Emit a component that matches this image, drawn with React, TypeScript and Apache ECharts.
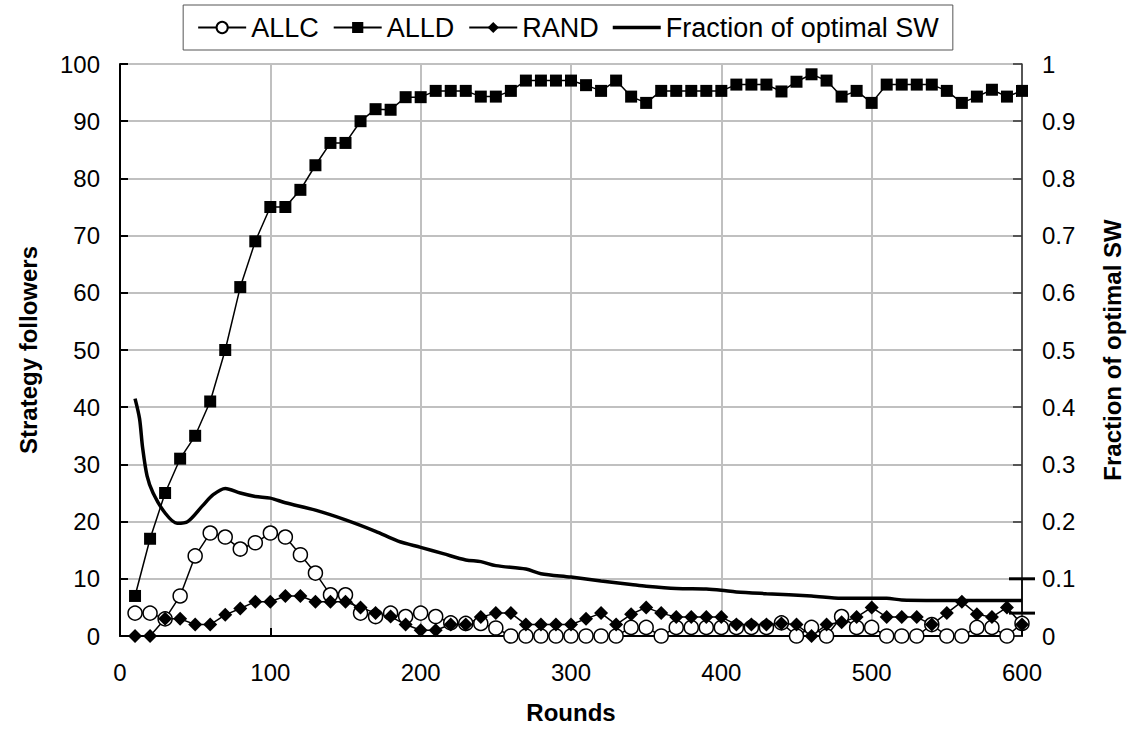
import React, { useEffect, useRef } from "react";
import * as echarts from "echarts";

const rounds = [10, 20, 30, 40, 50, 60, 70, 80, 90, 100, 110, 120, 130, 140, 150, 160, 170, 180, 190, 200, 210, 220, 230, 240, 250, 260, 270, 280, 290, 300, 310, 320, 330, 340, 350, 360, 370, 380, 390, 400, 410, 420, 430, 440, 450, 460, 470, 480, 490, 500, 510, 520, 530, 540, 550, 560, 570, 580, 590, 600];

const allc = [4, 4, 3, 7, 14, 18, 17.3, 15.2, 16.3, 18, 17.3, 14.2, 11, 7.2, 7.2, 4, 3.4, 4, 3.4, 4, 3.4, 2.3, 2.2, 2.2, 1.4, 0, 0, 0, 0, 0, 0, 0, 0, 1.5, 1.5, 0, 1.5, 1.5, 1.5, 1.5, 1.5, 1.5, 1.5, 2.3, 0, 1.5, 0, 3.4, 1.5, 1.5, 0, 0, 0, 2, 0, 0, 1.5, 1.5, 0, 2.2];

const alld = [7, 17, 25, 31, 35, 41, 50, 61, 69, 75, 75, 78, 82.3, 86.2, 86.2, 90, 92.1, 92, 94.2, 94.2, 95.3, 95.3, 95.3, 94.3, 94.3, 95.3, 97.1, 97.1, 97.1, 97.1, 96.3, 95.3, 97.1, 94.3, 93.2, 95.3, 95.3, 95.3, 95.3, 95.3, 96.4, 96.4, 96.4, 95.2, 96.9, 98.2, 97.1, 94.3, 95.3, 93.2, 96.4, 96.4, 96.4, 96.4, 95.3, 93.2, 94.3, 95.5, 94.3, 95.3];

const rand = [0, 0, 3, 3, 2, 2, 3.7, 4.8, 6, 6, 7, 7, 6, 6, 6, 5, 4, 3.4, 2, 1, 1, 2, 2, 3.3, 4, 4, 2, 2, 2, 2, 3, 4, 2, 3.8, 5, 4, 3.3, 3.3, 3.3, 3.3, 2, 2, 2, 2.2, 2, 0, 2, 2.4, 3.3, 5, 3.3, 3.3, 3.3, 2, 4, 6, 3.8, 3.3, 5, 2];

const fractionRounds = [10, 13, 15, 18, 22, 30, 38, 45, 55, 62, 70, 80, 90, 100, 110, 130, 150, 170, 185, 200, 215, 230, 240, 250, 270, 280, 300, 320, 340, 350, 370, 390, 400, 410, 430, 460, 480, 510, 520, 560, 600];
const fractionSW = [0.415, 0.38, 0.33, 0.28, 0.25, 0.215, 0.197, 0.2, 0.228, 0.247, 0.258, 0.25, 0.244, 0.241, 0.233, 0.22, 0.203, 0.183, 0.166, 0.155, 0.144, 0.133, 0.13, 0.123, 0.117, 0.109, 0.103, 0.096, 0.09, 0.087, 0.083, 0.082, 0.08, 0.077, 0.074, 0.07, 0.066, 0.066, 0.063, 0.062, 0.062];

const errorBarRound = [600];
const errorBarLow = [0.04];
const errorBarHigh = [0.1];

const FONT = "'Liberation Sans', Arial, sans-serif";

export default function App() {
  const ref = useRef<HTMLDivElement>(null);
  useEffect(() => {
    if (!ref.current) return;
    const chart = echarts.init(ref.current, null, { renderer: "svg" });
    const pair = (xs: number[], ys: number[]) => xs.map((x, i) => [x, ys[i]]);
    chart.setOption({
      animation: false,
      backgroundColor: "#fff",
      textStyle: { fontFamily: FONT, color: "#000" },
      legend: {
        top: 5,
        left: "center",
        data: [
          "ALLC",
          "ALLD",
          "RAND",
          { name: "Fraction of optimal SW", icon: "path://M0,0 L48,0 L48,3.5 L0,3.5 Z" },
        ],
        borderColor: "#555",
        borderWidth: 1,
        padding: [9, 14],
        itemWidth: 48,
        itemHeight: 14,
        itemGap: 14,
        textStyle: { fontFamily: FONT, fontSize: 27, color: "#000" },
      },
      grid: { left: 120, right: 114, top: 64, bottom: 95, containLabel: false },
      xAxis: {
        type: "value",
        min: 0,
        max: 600,
        interval: 100,
        name: "Rounds",
        nameLocation: "middle",
        nameGap: 64,
        nameTextStyle: { fontFamily: FONT, fontSize: 24, fontWeight: "bold", color: "#000" },
        axisLine: { show: true, onZero: false, lineStyle: { color: "#000", width: 2 } },
        axisTick: { show: true, inside: true, length: 8, lineStyle: { color: "#000", width: 2 } },
        axisLabel: { margin: 24, fontSize: 24, fontFamily: FONT, color: "#000" },
        splitLine: { show: true, lineStyle: { color: "#c0c0c0", width: 2 } },
      },
      yAxis: [
        {
          type: "value",
          min: 0,
          max: 100,
          interval: 10,
          name: "Strategy followers",
          nameLocation: "middle",
          nameRotate: 90,
          nameGap: 80,
          nameTextStyle: { fontFamily: FONT, fontSize: 24, fontWeight: "bold", color: "#000" },
          axisLine: { show: true, lineStyle: { color: "#000", width: 2 } },
          axisTick: { show: true, inside: true, length: 8, lineStyle: { color: "#000", width: 2 } },
          axisLabel: { margin: 20, fontSize: 24, fontFamily: FONT, color: "#000" },
          splitLine: { show: true, lineStyle: { color: "#c0c0c0", width: 2 } },
        },
        {
          type: "value",
          min: 0,
          max: 1,
          interval: 0.1,
          position: "right",
          name: "Fraction of optimal SW",
          nameLocation: "middle",
          nameRotate: 90,
          nameGap: 78,
          nameTextStyle: { fontFamily: FONT, fontSize: 24, fontWeight: "bold", color: "#000" },
          axisLine: { show: true, lineStyle: { color: "#333", width: 1.5 } },
          axisTick: { show: true, inside: true, length: 9, lineStyle: { color: "#333", width: 1.5 } },
          axisLabel: { margin: 20, fontSize: 24, fontFamily: FONT, color: "#000", formatter: (v: number) => String(Math.round(v * 10) / 10) },
          splitLine: { show: false },
        },
      ],
      series: [
        {
          name: "ALLC",
          type: "line",
          data: pair(rounds, allc),
          symbol: "circle",
          symbolSize: 14,
          lineStyle: { color: "#000", width: 1.5 },
          itemStyle: { color: "#fff", borderColor: "#000", borderWidth: 1.5 },
          clip: false,
        },
        {
          name: "ALLD",
          type: "line",
          data: pair(rounds, alld),
          symbol: "rect",
          symbolSize: 12,
          lineStyle: { color: "#000", width: 1.5 },
          itemStyle: { color: "#000", borderColor: "#000", borderWidth: 0 },
          clip: false,
        },
        {
          name: "RAND",
          type: "line",
          data: pair(rounds, rand),
          symbol: "diamond",
          symbolSize: 14,
          lineStyle: { color: "#000", width: 1.5 },
          itemStyle: { color: "#000", borderColor: "#000", borderWidth: 0 },
          clip: false,
        },
        {
          name: "Fraction of optimal SW",
          type: "line",
          yAxisIndex: 1,
          data: pair(fractionRounds, fractionSW),
          smooth: 0.3,
          showSymbol: false,
          symbol: "none",
          lineStyle: { color: "#000", width: 3.5 },
          itemStyle: { color: "#000" },
        },
        {
          name: "errorbar",
          type: "custom",
          yAxisIndex: 1,
          clip: false,
          encode: { x: 0, y: [1, 2] },
          data: errorBarRound.map((x, i) => [x, errorBarLow[i], errorBarHigh[i]]),
          renderItem: (params: any, api: any) => {
            const lo = api.coord([api.value(0), api.value(1)]);
            const hi = api.coord([api.value(0), api.value(2)]);
            const cap = 13;
            const st = { stroke: "#000", lineWidth: 3 };
            return {
              type: "group",
              children: [
                { type: "line", shape: { x1: lo[0], y1: lo[1], x2: hi[0], y2: hi[1] }, style: { stroke: "#000", lineWidth: 1.5 } },
                { type: "line", shape: { x1: lo[0] - cap, y1: lo[1], x2: lo[0] + cap, y2: lo[1] }, style: st },
                { type: "line", shape: { x1: hi[0] - cap, y1: hi[1], x2: hi[0] + cap, y2: hi[1] }, style: st },
              ],
            };
          },
        },
      ],
    });
    return () => chart.dispose();
  }, []);
  return (
    <div
      ref={ref}
      style={{ position: "fixed", left: 0, top: 0, width: 1136, height: 731, background: "#fff" }}
    />
  );
}
